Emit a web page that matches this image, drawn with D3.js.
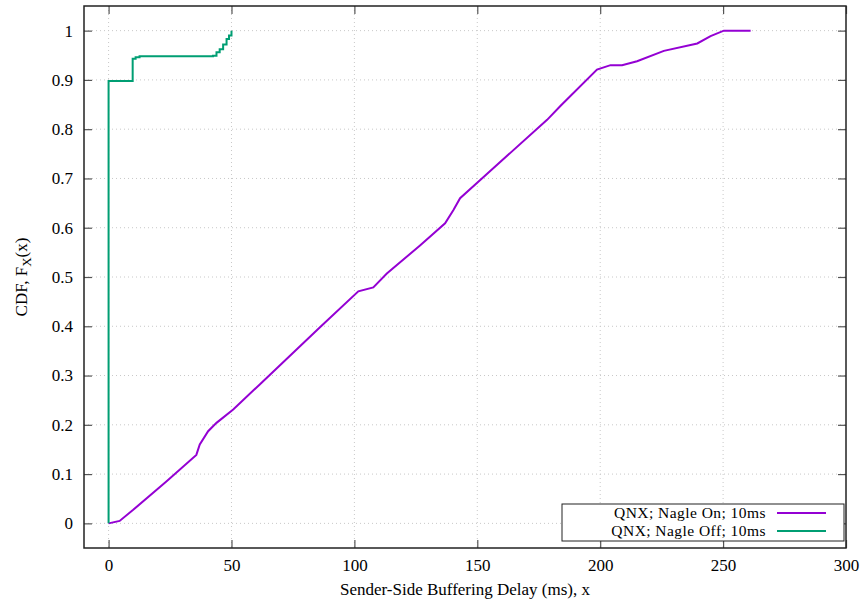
<!DOCTYPE html>
<html>
<head>
<meta charset="utf-8">
<script src="https://cdn.jsdelivr.net/npm/d3@7"></script>
<style>
  body { margin: 0; background: #fff; }
  text { font-family: "Liberation Serif", "Times New Roman", serif; fill: #000; }
</style>
</head>
<body>
<div id="chart"></div>
<script>
// x domain / ticks
const xDomain = [-10, 300]
const yDomain = [-0.05, 1.05]
const xTicks = [0, 50, 100, 150, 200, 250, 300]
const yTicks = [0, 0.1, 0.2, 0.3, 0.4, 0.5, 0.6, 0.7, 0.8, 0.9, 1]

const seriesNames = ['QNX; Nagle On; 10ms', 'QNX; Nagle Off; 10ms']
const seriesColors = ['#9400d3', '#009e73']

// Nagle On (purple)
const nagleOnX = [0, 4.5, 9.9, 23.5, 35.7, 37.1, 40.5, 43.9, 50.7, 61.5, 86, 101.6, 107.7, 113.2, 126.7, 136.9, 140.3, 143, 151.2, 178.4, 183.8, 198.7, 204.2, 208.9, 215, 225.9, 239.5, 244.9, 250.3, 261.2]
const nagleOnY = [0, 0.005, 0.027, 0.085, 0.139, 0.16, 0.187, 0.204, 0.231, 0.282, 0.398, 0.471, 0.479, 0.507, 0.564, 0.609, 0.636, 0.66, 0.697, 0.819, 0.847, 0.921, 0.93, 0.93, 0.938, 0.959, 0.974, 0.989, 1, 1]

// Nagle Off (green), step function
const nagleOffX = [0, 0, 9.8, 11, 12.6, 42.5, 43.9, 45.2, 46.6, 48, 49, 50]
const nagleOffY = [0, 0.898, 0.943, 0.946, 0.948, 0.949, 0.956, 0.962, 0.972, 0.983, 0.99, 1]

var fullWidth = 864
var fullHeight = 602
var margin = {top: 6, right: 18, bottom: 54, left: 84}
var width = fullWidth - margin.left - margin.right
var height = fullHeight - margin.top - margin.bottom
var fontSize = '17px'

var x = d3.scaleLinear().domain(xDomain).range([0, width])
var y = d3.scaleLinear().domain(yDomain).range([height, 0])

var svg = d3.select('#chart').append('svg')
    .attr('width', fullWidth)
    .attr('height', fullHeight)
  .append('g')
    .attr('transform', 'translate(' + margin.left + ',' + margin.top + ')')

// grid
svg.append('g').selectAll('line').data(xTicks.filter(d => d < 300))
  .enter().append('line')
  .attr('x1', d => x(d)).attr('x2', d => x(d))
  .attr('y1', 0).attr('y2', height)
  .attr('stroke', '#c8c8c8').attr('stroke-dasharray', '1,3')
svg.append('g').selectAll('line').data(yTicks)
  .enter().append('line')
  .attr('x1', 0).attr('x2', width)
  .attr('y1', d => y(d)).attr('y2', d => y(d))
  .attr('stroke', '#c8c8c8').attr('stroke-dasharray', '1,3')

// axes, ticks pointing inward like gnuplot
function styleAxis(g) {
  g.select('.domain').remove()
  g.selectAll('.tick line').attr('stroke', '#555').attr('stroke-width', 1.2)
  g.selectAll('.tick text').style('font-family', '"Liberation Serif", serif').style('font-size', fontSize).attr('fill', '#000')
}
svg.append('g')
  .attr('transform', 'translate(0,' + height + ')')
  .call(d3.axisBottom(x).tickValues(xTicks).tickSize(-8).tickPadding(11).tickFormat(d3.format('d')))
  .call(styleAxis)
svg.append('g')
  .call(d3.axisTop(x).tickValues(xTicks).tickSize(-8).tickFormat(''))
  .call(styleAxis)
svg.append('g')
  .call(d3.axisLeft(y).tickValues(yTicks).tickSize(-8).tickPadding(11).tickFormat(d => d === 0 || d === 1 ? d3.format('d')(d) : d3.format('.1f')(d)))
  .call(styleAxis)
svg.append('g')
  .attr('transform', 'translate(' + width + ',0)')
  .call(d3.axisRight(y).tickValues(yTicks).tickSize(-8).tickFormat(''))
  .call(styleAxis)

// series
var lineOn = d3.line()
  .x(function(d, i) { return x(nagleOnX[i]) })
  .y(function(d) { return y(d) })
svg.append('path')
  .datum(nagleOnY)
  .attr('d', lineOn)
  .attr('fill', 'none')
  .attr('stroke', seriesColors[0])
  .attr('stroke-width', 2)

var lineOff = d3.line()
  .curve(d3.curveStepAfter)
  .x(function(d, i) { return x(nagleOffX[i]) })
  .y(function(d) { return y(d) })
svg.append('path')
  .datum(nagleOffY)
  .attr('d', lineOff)
  .attr('fill', 'none')
  .attr('stroke', seriesColors[1])
  .attr('stroke-width', 2)

// frame
svg.append('rect')
  .attr('width', width).attr('height', height)
  .attr('fill', 'none').attr('stroke', '#222').attr('stroke-width', 1.5)

// axis labels
svg.append('text')
  .attr('text-anchor', 'middle')
  .attr('x', width / 2)
  .attr('y', height + 47)
  .style('font-size', fontSize)
  .text('Sender-Side Buffering Delay (ms), x')

var yl = svg.append('text')
  .attr('text-anchor', 'middle')
  .attr('transform', 'translate(' + (-57) + ',' + (height / 2) + ') rotate(-90)')
  .style('font-size', fontSize)
yl.append('tspan').text('CDF, F')
yl.append('tspan').attr('dy', 4).style('font-size', '13px').text('X')
yl.append('tspan').attr('dy', -4).text('(x)')

// legend (rows kept tight like the original, font a bit smaller so rows don't collide)
var legend = svg.append('g')
  .attr('transform', 'translate(' + (562 - margin.left) + ',' + (504 - margin.top) + ')')
legend.append('rect')
  .attr('width', 282).attr('height', 37)
  .attr('fill', '#fff').attr('stroke', '#222').attr('stroke-width', 1)
seriesNames.forEach(function(name, i) {
  legend.append('text')
    .attr('x', 204).attr('y', 14 + i * 18)
    .attr('text-anchor', 'end')
    .style('font-size', '15.5px')
    .style('letter-spacing', '0.45px')
    .text(name)
  legend.append('line')
    .attr('x1', 215).attr('x2', 264)
    .attr('y1', 9 + i * 18).attr('y2', 9 + i * 18)
    .attr('stroke', seriesColors[i]).attr('stroke-width', 2)
})
</script>
</body>
</html>
